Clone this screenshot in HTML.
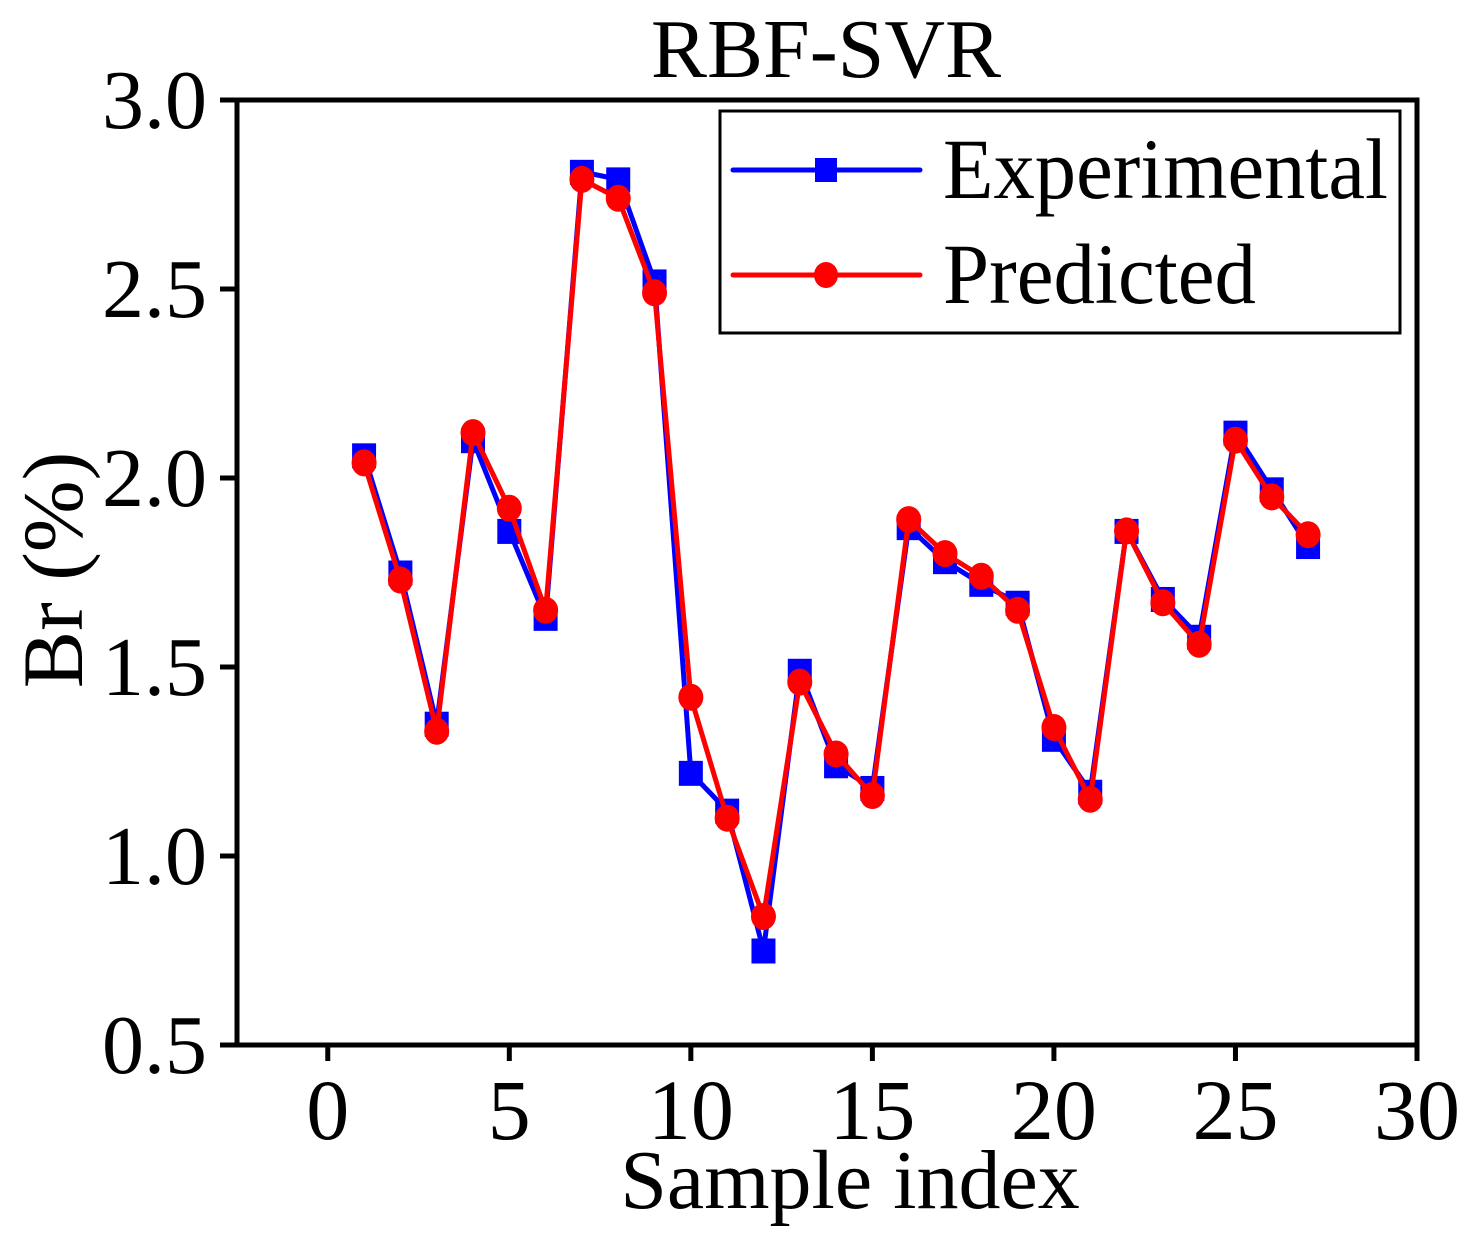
<!DOCTYPE html>
<html><head><meta charset="utf-8"><style>
html,body{margin:0;padding:0;background:#fff;}
svg{display:block;}
text{font-family:"Liberation Serif",serif;fill:#000;}
</style></head><body>
<svg id="chart" width="1477" height="1248" viewBox="0 0 1477 1248" xmlns="http://www.w3.org/2000/svg">
<text x="826" y="77" font-size="84" text-anchor="middle">RBF-SVR</text>
<text x="850" y="1208" font-size="84" text-anchor="middle">Sample index</text>
<text transform="translate(82,570) rotate(-90)" font-size="86" text-anchor="middle">Br (%)</text>
<g id="axes"></g>
<g id="series"></g>
<g>
<rect x="720" y="111" width="680" height="222" fill="#fff" stroke="#000" stroke-width="3"/>
<g>
<line x1="733" y1="170" x2="920" y2="170" stroke="#0000ff" stroke-width="5" stroke-linecap="round"/>
<rect x="815" y="158" width="22" height="24" fill="#0000ff"/>
<text x="943" y="198" font-size="86" textLength="445" lengthAdjust="spacingAndGlyphs">Experimental</text>
</g>
<g>
<line x1="733" y1="275" x2="920" y2="275" stroke="#ff0000" stroke-width="5" stroke-linecap="round"/>
<ellipse cx="826" cy="275" rx="12" ry="13" fill="#ff0000"/>
<text x="943" y="303" font-size="86" textLength="313" lengthAdjust="spacingAndGlyphs">Predicted</text>
</g>
</g>
</svg>
<script>
const sampleIdx = [1,2,3,4,5,6,7,8,9,10,11,12,13,14,15,16,17,18,19,20,21,22,23,24,25,26,27];
const experimental = [2.06,1.75,1.35,2.10,1.86,1.63,2.81,2.79,2.52,1.22,1.12,0.75,1.49,1.24,1.18,1.87,1.78,1.72,1.67,1.31,1.17,1.86,1.68,1.58,2.12,1.97,1.82];
const predicted = [2.04,1.73,1.33,2.12,1.92,1.65,2.79,2.74,2.49,1.42,1.10,0.84,1.46,1.27,1.16,1.89,1.80,1.74,1.65,1.34,1.15,1.86,1.67,1.56,2.10,1.95,1.85];
const xTicks = [0,5,10,15,20,25,30];
const yTicks = [0.5,1.0,1.5,2.0,2.5,3.0];

const L=237,R=1417,T=100,B=1045,xMin=-2.5,xMax=30,yMin=0.5,yMax=3.0;
const sx=v=>L+(v-xMin)/(xMax-xMin)*(R-L);
const sy=v=>B-(v-yMin)/(yMax-yMin)*(B-T);
const NS='http://www.w3.org/2000/svg';
function mk(tag,attrs,parent){const e=document.createElementNS(NS,tag);for(const k in attrs)e.setAttribute(k,attrs[k]);parent.appendChild(e);return e;}
const axes=document.getElementById('axes');
const frame=mk('rect',{x:L,y:T,width:R-L,height:B-T,fill:'none',stroke:'#000','stroke-width':5},axes);


xTicks.forEach(t=>{
  const g=mk('g',{},axes);
  
  
  mk('line',{x1:sx(t),x2:sx(t),y1:B,y2:B+16,stroke:'#000','stroke-width':5},g);
  const tx=mk('text',{x:sx(t),y:1139,'font-size':86,'text-anchor':'middle'},g);
  tx.textContent=String(t);
});
yTicks.forEach(t=>{
  const g=mk('g',{},axes);
  
  
  mk('line',{x1:L-17,x2:L,y1:sy(t),y2:sy(t),stroke:'#000','stroke-width':5},g);
  const tx=mk('text',{x:207,y:sy(t)+28,'font-size':84,'text-anchor':'end'},g);
  tx.textContent=t.toFixed(1);
});
const series=document.getElementById('series');
function drawSeries(vals,color,name,marker){
  const g=mk('g',{},series);
  
  
  const pts=vals.map((v,i)=>sx(sampleIdx[i])+','+sy(v)).join(' ');
  const pl=mk('polyline',{points:pts,fill:'none',stroke:color,'stroke-width':5,'stroke-linejoin':'round'},g);
  
  
  vals.forEach((v,i)=>{
    let m;
    if(marker==='square') m=mk('rect',{x:sx(sampleIdx[i])-12,y:sy(v)-12,width:24,height:25,fill:color},g);
    else m=mk('ellipse',{cx:sx(sampleIdx[i]),cy:sy(v),rx:12.5,ry:13.5,fill:color},g);
    
    
  });
}
drawSeries(experimental,'#0000ff','experimental','square');
drawSeries(predicted,'#ff0000','predicted','circle');
</script>
</body></html>
